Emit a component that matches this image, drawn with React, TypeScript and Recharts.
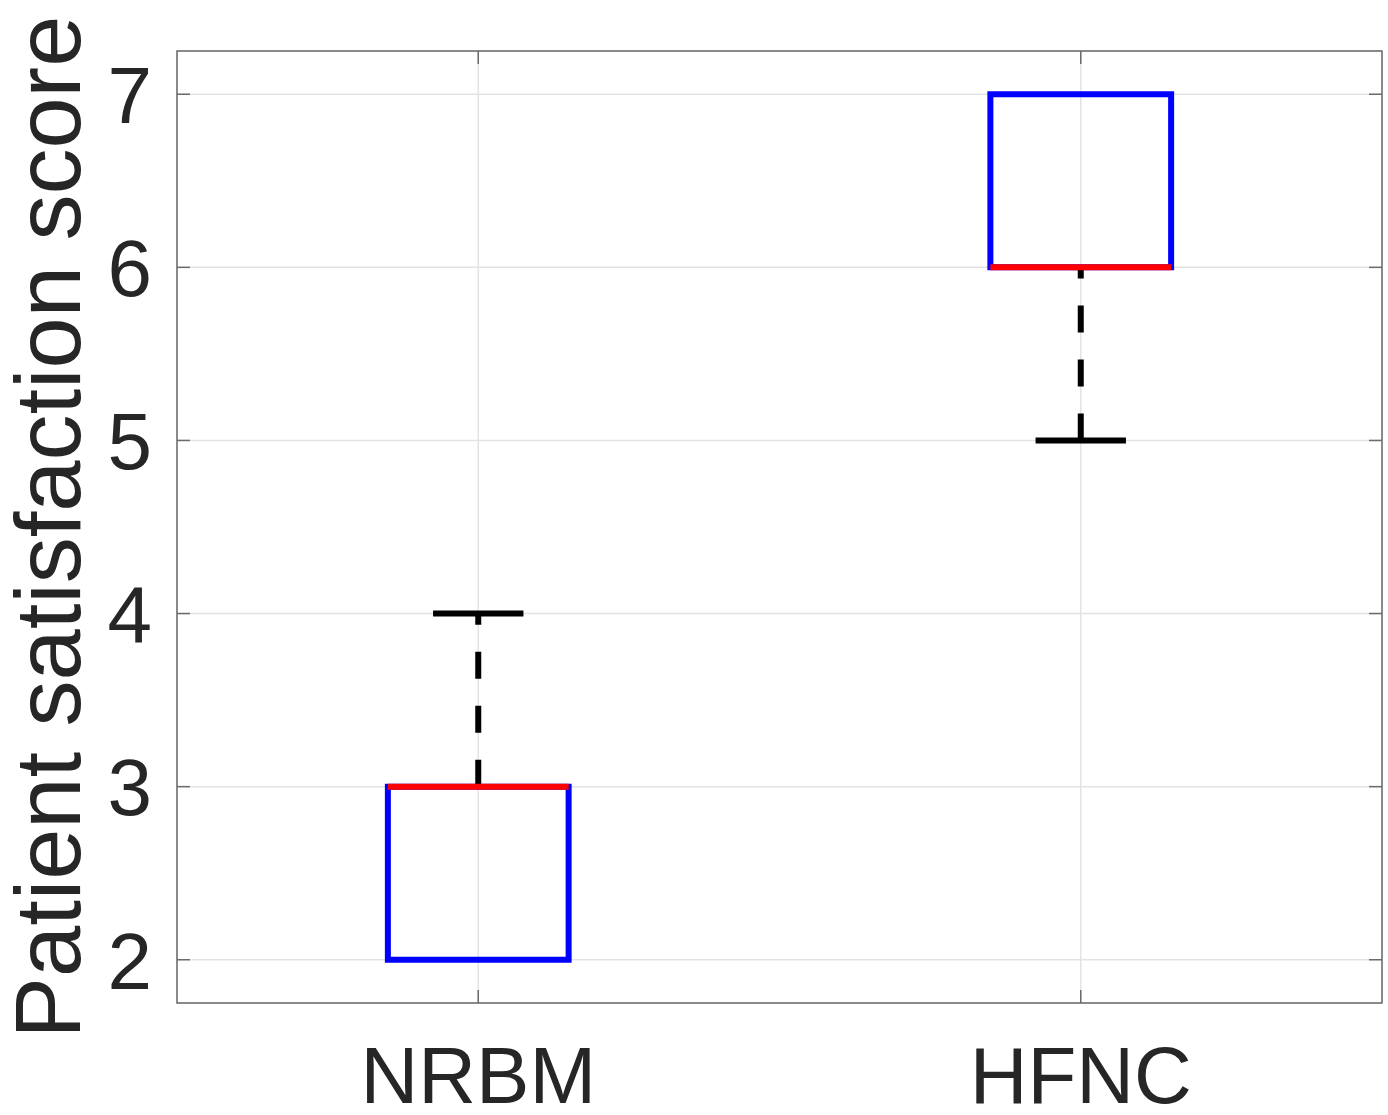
import { ComposedChart, XAxis, YAxis, CartesianGrid, ReferenceArea, ReferenceLine, Scatter } from 'recharts';

// box plot statistics per group
const categories = ['NRBM', 'HFNC'];
const lowerWhisker = [2, 5];
const q1 = [2, 6];
const median = [3, 6];
const q3 = [3, 7];
const upperWhisker = [4, 7];
const yTicks = [2, 3, 4, 5, 6, 7];

const W = 1388;
const H = 1115;
const PLOT_LEFT = 177;
const PLOT_RIGHT = 1382;
const PLOT_TOP = 51;
const PLOT_BOTTOM = 1003;
const TICK_LEN = 13;
const BOX_HALF = 0.15;
const CAP_HALF = 0.075;
const LW = 6;
const FONT = '"Liberation Sans", Arial, Helvetica, sans-serif';
const TEXT = '#262626';
const AXIS = '#6b6b6b';

const rows = categories.map((name, i) => ({ pos: i + 1, name, median: median[i] }));

const YTick = (props: any) => {
  const { y, payload } = props;
  return (
    <g>
      <line x1={PLOT_LEFT} x2={PLOT_LEFT + TICK_LEN} y1={y} y2={y} stroke={AXIS} strokeWidth={1.5} />
      <line x1={PLOT_RIGHT - TICK_LEN} x2={PLOT_RIGHT} y1={y} y2={y} stroke={AXIS} strokeWidth={1.5} />
      <text x={PLOT_LEFT - 25} y={y} dy="0.36em" textAnchor="end" fontSize={80} fontFamily={FONT} fill={TEXT}>
        {payload.value}
      </text>
    </g>
  );
};

const XTick = (props: any) => {
  const { x, payload } = props;
  return (
    <g>
      <line x1={x} x2={x} y1={PLOT_BOTTOM} y2={PLOT_BOTTOM - TICK_LEN} stroke={AXIS} strokeWidth={1.5} />
      <line x1={x} x2={x} y1={PLOT_TOP} y2={PLOT_TOP + TICK_LEN} stroke={AXIS} strokeWidth={1.5} />
      <text x={x} y={1103} textAnchor="middle" fontSize={80} fontFamily={FONT} fill={TEXT}>
        {categories[payload.value - 1]}
      </text>
    </g>
  );
};

const YLabel = () => (
  <text
    x={80}
    y={(PLOT_TOP + PLOT_BOTTOM) / 2}
    transform={`rotate(-90, 80, ${(PLOT_TOP + PLOT_BOTTOM) / 2})`}
    textAnchor="middle"
    fontSize={92}
    fontFamily={FONT}
    fill={TEXT}
  >
    Patient satisfaction score
  </text>
);

export default function App() {
  return (
    <div style={{ position: 'absolute', left: 0, top: 0, background: '#fff' }}>
      <ComposedChart
        width={W}
        height={H}
        data={rows}
        margin={{ top: PLOT_TOP, right: W - PLOT_RIGHT, left: 0, bottom: 0 }}
      >
        <CartesianGrid stroke="#e3e3e3" strokeWidth={1.5} />
        <XAxis
          dataKey="pos"
          type="number"
          domain={[0.5, 2.5]}
          ticks={[1, 2]}
          height={H - PLOT_BOTTOM}
          axisLine={false}
          tickLine={false}
          tick={<XTick />}
          interval={0}
        />
        <YAxis
          type="number"
          domain={[1.75, 7.25]}
          ticks={yTicks}
          width={PLOT_LEFT}
          axisLine={false}
          tickLine={false}
          tick={<YTick />}
          interval={0}
          label={{ content: () => <YLabel /> }}
        />
        <ReferenceArea x1={0.5} x2={2.5} y1={1.75} y2={7.25} fill="none" stroke={AXIS} strokeWidth={1.5} />
        {categories.map((c, i) =>
          lowerWhisker[i] < q1[i] ? (
            <ReferenceLine
              key={`lw-${c}`}
              segment={[{ x: i + 1, y: lowerWhisker[i] }, { x: i + 1, y: q1[i] }]}
              stroke="#000"
              strokeWidth={LW}
              strokeDasharray="27 27"
            />
          ) : null
        )}
        {categories.map((c, i) =>
          upperWhisker[i] > q3[i] ? (
            <ReferenceLine
              key={`uw-${c}`}
              segment={[{ x: i + 1, y: q3[i] }, { x: i + 1, y: upperWhisker[i] }]}
              stroke="#000"
              strokeWidth={LW}
              strokeDasharray="27 27"
            />
          ) : null
        )}
        {categories.map((c, i) => (
          <ReferenceArea
            key={`box-${c}`}
            x1={i + 1 - BOX_HALF}
            x2={i + 1 + BOX_HALF}
            y1={q1[i]}
            y2={q3[i]}
            fill="none"
            fillOpacity={0}
            stroke="#0000ff"
            strokeWidth={LW}
          />
        ))}
        {categories.map((c, i) => (
          <ReferenceLine
            key={`med-${c}`}
            segment={[{ x: i + 1 - BOX_HALF, y: median[i] }, { x: i + 1 + BOX_HALF, y: median[i] }]}
            stroke="#ff0000"
            strokeWidth={LW}
          />
        ))}
        {categories.map((c, i) =>
          upperWhisker[i] > q3[i] ? (
            <ReferenceLine
              key={`uc-${c}`}
              segment={[{ x: i + 1 - CAP_HALF, y: upperWhisker[i] }, { x: i + 1 + CAP_HALF, y: upperWhisker[i] }]}
              stroke="#000"
              strokeWidth={LW}
            />
          ) : null
        )}
        {categories.map((c, i) =>
          lowerWhisker[i] < q1[i] ? (
            <ReferenceLine
              key={`lc-${c}`}
              segment={[{ x: i + 1 - CAP_HALF, y: lowerWhisker[i] }, { x: i + 1 + CAP_HALF, y: lowerWhisker[i] }]}
              stroke="#000"
              strokeWidth={LW}
            />
          ) : null
        )}
        <Scatter dataKey="median" shape={() => <g />} isAnimationActive={false} />
      </ComposedChart>
    </div>
  );
}
